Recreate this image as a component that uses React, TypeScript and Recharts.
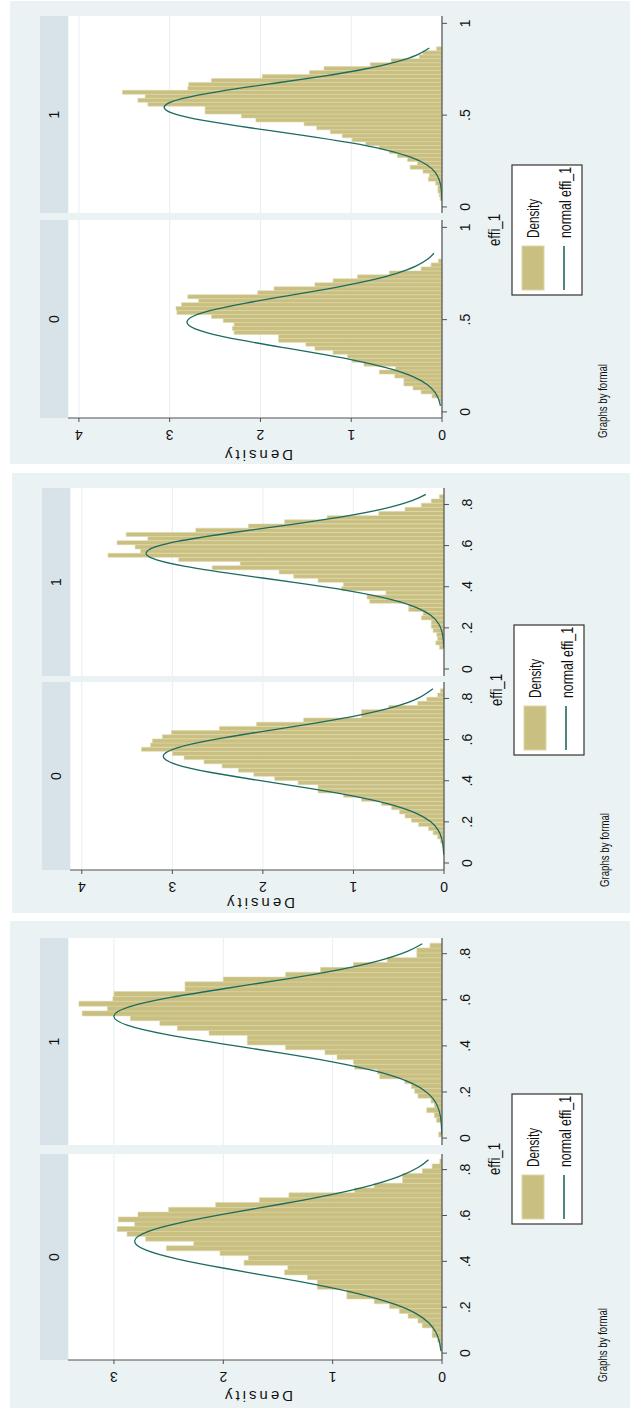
import { Bar, BarChart, CartesianGrid, Line, LineChart, XAxis, YAxis } from "recharts";

// bin centres (effi_1) and histogram densities
const p1Bins = [
  0.0438, 0.0653, 0.0868, 0.1083, 0.1298, 0.1513, 0.1728, 0.1943, 0.2158, 0.2373, 0.2588, 0.2803, 0.3018,
  0.3233, 0.3448, 0.3663, 0.3878, 0.4093, 0.4308, 0.4523, 0.4738, 0.4953, 0.5168, 0.5383, 0.5598, 0.5813,
  0.6028, 0.6243, 0.6458, 0.6673, 0.6888, 0.7103, 0.7318, 0.7533, 0.7748, 0.7963, 0.8178, 0.8393, 0.8608,
];
const p1Formal0 = [
  0.01, 0.03, 0.11, 0.23, 0.32, 0.42, 0.42, 0.52, 0.69, 0.51, 0.86, 0.99, 1.04, 1.2, 1.4, 1.5, 1.8, 1.8, 2.29,
  2.31, 2.29, 2.41, 2.54, 2.92, 2.93, 2.87, 2.68, 2.8, 2.03, 1.85, 1.4, 1.2, 0.93, 0.58, 0.23, 0.12, 0.04, 0, 0,
];
const p1Formal1 = [
  0.02, 0.03, 0.045, 0.045, 0.07, 0.15, 0.14, 0.21, 0.35, 0.27, 0.38, 0.49, 0.58, 0.69, 0.84, 0.99, 1.1, 1.23,
  1.38, 1.52, 2.05, 2.21, 2.61, 2.61, 3.24, 3.35, 3.27, 3.52, 2.8, 2.79, 2.54, 1.98, 1.46, 1.3, 0.79, 0.56, 0.25,
  0.21, 0.06,
];
const p1CurveX0 = [
  0.033, 0.07, 0.11, 0.15, 0.19, 0.23, 0.27, 0.31, 0.35, 0.39, 0.43, 0.47, 0.51, 0.55, 0.59, 0.63, 0.67, 0.71,
  0.75, 0.79, 0.83, 0.86,
];
const p1Curve0 = [
  0.017, 0.038, 0.083, 0.168, 0.315, 0.546, 0.874, 1.292, 1.764, 2.225, 2.593, 2.79, 2.773, 2.547, 2.16, 1.692,
  1.225, 0.819, 0.506, 0.289, 0.152, 0.089,
];
const p1CurveX1 = [
  0.035, 0.07, 0.11, 0.15, 0.19, 0.23, 0.27, 0.31, 0.35, 0.39, 0.43, 0.47, 0.51, 0.55, 0.59, 0.63, 0.67, 0.71,
  0.75, 0.79, 0.83, 0.866,
];
const p1Curve1 = [
  0.002, 0.004, 0.012, 0.032, 0.077, 0.169, 0.337, 0.614, 1.017, 1.531, 2.097, 2.614, 2.963, 3.056, 2.866, 2.446,
  1.899, 1.341, 0.861, 0.503, 0.268, 0.14,
];

const p2Bins = [
  0.0662, 0.0865, 0.1068, 0.1271, 0.1474, 0.1677, 0.188, 0.2083, 0.2286, 0.2489, 0.2692, 0.2895, 0.3098, 0.3301,
  0.3504, 0.3707, 0.391, 0.4113, 0.4316, 0.4519, 0.4722, 0.4925, 0.5128, 0.5331, 0.5534, 0.5737, 0.594, 0.6143,
  0.6346, 0.6549, 0.6752, 0.6955, 0.7158, 0.7361, 0.7564, 0.7767, 0.797, 0.8173, 0.8376,
];
const p2Formal0 = [
  0.01, 0.02, 0.04, 0.07, 0.12, 0.17, 0.28, 0.36, 0.43, 0.49, 0.58, 0.69, 0.91, 1.11, 1.39, 1.39, 1.61, 1.87, 2.1,
  2.27, 2.45, 2.65, 2.87, 3.0, 3.34, 3.24, 3.22, 3.11, 3.01, 2.48, 2.07, 1.55, 0.91, 0.91, 0.61, 0.29, 0.19, 0.07,
  0.04,
];
const p2Formal1 = [
  0, 0, 0.05, 0.09, 0.07, 0.08, 0.12, 0.14, 0.14, 0.25, 0.23, 0.39, 0.39, 0.82, 0.85, 0.64, 1.13, 1.11, 1.39, 1.66,
  1.82, 2.56, 2.25, 2.93, 3.71, 3.35, 3.41, 3.61, 3.27, 3.51, 2.74, 2.16, 1.76, 1.29, 0.72, 0.43, 0.25, 0.14, 0.05,
];
const p2CurveX0 = [
  0.04, 0.08, 0.12, 0.16, 0.2, 0.24, 0.28, 0.32, 0.36, 0.4, 0.44, 0.48, 0.52, 0.56, 0.6, 0.64, 0.68, 0.72, 0.76,
  0.8, 0.847,
];
const p2Curve0 = [
  0.003, 0.009, 0.026, 0.064, 0.146, 0.299, 0.557, 0.943, 1.45, 2.026, 2.57, 2.962, 3.1, 2.947, 2.545, 1.997,
  1.423, 0.921, 0.541, 0.289, 0.122,
];
const p2CurveX1 = [
  0.105, 0.14, 0.18, 0.22, 0.26, 0.3, 0.34, 0.38, 0.42, 0.46, 0.5, 0.54, 0.58, 0.62, 0.66, 0.7, 0.74, 0.78, 0.82,
  0.849,
];
const p2Curve1 = [
  0.003, 0.007, 0.022, 0.059, 0.143, 0.31, 0.602, 1.048, 1.637, 2.29, 2.873, 3.231, 3.258, 2.944, 2.386, 1.733,
  1.128, 0.659, 0.345, 0.201,
];

const p3Bins = [
  0.0155, 0.0365, 0.0575, 0.0785, 0.0995, 0.1205, 0.1415, 0.1625, 0.1835, 0.2045, 0.2255, 0.2465, 0.2675, 0.2885,
  0.3095, 0.3305, 0.3515, 0.3725, 0.3935, 0.4145, 0.4355, 0.4565, 0.4775, 0.4985, 0.5195, 0.5405, 0.5615, 0.5825,
  0.6035, 0.6245, 0.6455, 0.6665, 0.6875, 0.7085, 0.7295, 0.7505, 0.7715, 0.7925, 0.8135, 0.8345,
];
const p3Formal0 = [
  0.01, 0.02, 0.04, 0.09, 0.09, 0.18, 0.22, 0.31, 0.39, 0.48, 0.62, 0.87, 0.87, 1.14, 1.14, 1.23, 1.44, 1.41, 1.81,
  1.77, 2.03, 2.52, 2.27, 2.71, 2.88, 2.97, 2.81, 2.96, 2.78, 2.5, 2.07, 1.67, 1.4, 0.8, 0.62, 0.36, 0.36, 0.18,
  0.09, 0.02,
];
const p3Formal1 = [
  0.03, 0, 0, 0.05, 0.07, 0.14, 0.07, 0.1, 0.22, 0.25, 0.28, 0.34, 0.57, 0.59, 0.8, 0.81, 0.96, 1.07, 1.43, 1.78,
  1.78, 2.13, 2.42, 2.58, 2.85, 3.29, 3.06, 3.32, 3.01, 3.0, 2.35, 2.35, 2.0, 1.43, 1.11, 0.81, 0.5, 0.23, 0.23,
  0.11,
];
const p3CurveX0 = [
  0.01, 0.05, 0.09, 0.13, 0.17, 0.21, 0.25, 0.29, 0.33, 0.37, 0.41, 0.45, 0.49, 0.53, 0.57, 0.61, 0.65, 0.69, 0.73,
  0.77, 0.81, 0.843,
];
const p3Curve0 = [
  0.01, 0.024, 0.055, 0.117, 0.229, 0.414, 0.69, 1.063, 1.513, 1.99, 2.417, 2.711, 2.81, 2.69, 2.378, 1.943, 1.466,
  1.022, 0.658, 0.391, 0.215, 0.123,
];
const p3CurveX1 = [
  0.017, 0.05, 0.09, 0.13, 0.17, 0.21, 0.25, 0.29, 0.33, 0.37, 0.41, 0.45, 0.49, 0.53, 0.57, 0.61, 0.65, 0.69,
  0.73, 0.77, 0.81, 0.843,
];
const p3Curve1 = [
  0.002, 0.005, 0.013, 0.034, 0.08, 0.172, 0.338, 0.605, 0.991, 1.481, 2.024, 2.526, 2.88, 3.0, 2.854, 2.481, 1.97,
  1.429, 0.947, 0.573, 0.317, 0.18,
];

const effiTicksWide = [0, 0.5, 1];
const effiTicks = [0, 0.2, 0.4, 0.6, 0.8];
const densityTicks4 = [0, 1, 2, 3, 4];
const densityTicks3 = [0, 1, 2, 3];
const groupLabels = ["0", "1"];

const FONT = '"Liberation Sans", Arial, sans-serif';
const BG = "#eaf2f3";
const STRIP = "#d7e3e9";
const BAR_FILL = "#c9bf80";
const BAR_EDGE = "#ddd7a9";
const CURVE = "#1d6b5f";
const GRID = "#e6eff1";
const AXIS = "#505050";
const INK = "#111";

// layout in the un-rotated graph (u runs along effi_1, v runs down)
const STRIP_TOP = 30;
const PLOT_TOP = 58;
const PLOT_H = 374;
const Y_AXIS_W = 46;
const X_AXIS_H = 40;

if (typeof document !== "undefined") document.body.style.margin = "0";

type Pt = { x: number; y: number };
const curveRows = (xs: number[], ys: number[]): Pt[] => xs.map((x, i) => ({ x, y: ys[i] }));
const binRows = (xs: number[], ds: number[]) => xs.map((x, i) => ({ x, d: ds[i] }));

function fmtEffi(v: number): string {
  if (v === 0) return "0";
  if (v === 1) return "1";
  return String(v).replace(/^0/, "");
}

type PanelCfg = {
  left: number;
  top: number;
  w: number;
  h: number;
  s0: [number, number];
  s1: [number, number];
  xDomain: [number, number];
  xTicks: number[];
  yMax: number;
  yTicks: number[];
  yTitleU: number;
  xTitleU: number;
  bins0: { x: number; d: number }[];
  bins1: { x: number; d: number }[];
  curve0: Pt[];
  curve1: Pt[];
};

const panels: PanelCfg[] = [
  {
    left: 10, top: 1, w: 463, h: 620,
    s0: [46, 244], s1: [251, 448],
    xDomain: [-0.033, 1.04], xTicks: effiTicksWide,
    yMax: 4.12, yTicks: densityTicks4,
    yTitleU: 10, xTitleU: 234,
    bins0: binRows(p1Bins, p1Formal0), bins1: binRows(p1Bins, p1Formal1),
    curve0: curveRows(p1CurveX0, p1Curve0), curve1: curveRows(p1CurveX1, p1Curve1),
  },
  {
    left: 12, top: 473, w: 440, h: 618,
    s0: [43, 231], s1: [237, 425],
    xDomain: [-0.034, 0.88], xTicks: effiTicks,
    yMax: 4.13, yTicks: densityTicks4,
    yTitleU: 11, xTitleU: 223,
    bins0: binRows(p2Bins, p2Formal0), bins1: binRows(p2Bins, p2Formal1),
    curve0: curveRows(p2CurveX0, p2Curve0), curve1: curveRows(p2CurveX1, p2Curve1),
  },
  {
    left: 10, top: 921, w: 487, h: 620,
    s0: [48, 254], s1: [263, 470],
    xDomain: [-0.03, 0.868], xTicks: effiTicks,
    yMax: 3.42, yTicks: densityTicks3,
    yTitleU: 13, xTitleU: 249,
    bins0: binRows(p3Bins, p3Formal0), bins1: binRows(p3Bins, p3Formal1),
    curve0: curveRows(p3CurveX0, p3Curve0), curve1: curveRows(p3CurveX1, p3Curve1),
  },
];

function Subpanel({
  cfg,
  range,
  label,
  bins,
  curve,
  showDensity,
}: {
  cfg: PanelCfg;
  range: [number, number];
  label: string;
  bins: { x: number; d: number }[];
  curve: Pt[];
  showDensity: boolean;
}) {
  const [u0, u1] = range;
  const pw = u1 - u0;
  const yw = showDensity ? Y_AXIS_W : 0;
  return (
    <>
      <div
        style={{
          position: "absolute",
          left: u0,
          top: STRIP_TOP,
          width: pw,
          height: PLOT_TOP - STRIP_TOP,
          background: STRIP,
          fontFamily: FONT,
          fontSize: 14,
          lineHeight: `${PLOT_TOP - STRIP_TOP}px`,
          textAlign: "center",
          color: INK,
        }}
      >
        {label}
      </div>
      <div style={{ position: "absolute", left: u0, top: PLOT_TOP, width: pw, height: PLOT_H, background: "#fff" }} />
      <div style={{ position: "absolute", left: u0, top: PLOT_TOP }}>
        <BarChart
          width={pw}
          height={PLOT_H}
          data={bins}
          margin={{ top: 0, right: 0, bottom: 0, left: 0 }}
          barCategoryGap={0}
          barGap={0}
        >
          <CartesianGrid vertical={false} stroke={GRID} strokeWidth={1} />
          <XAxis dataKey="x" type="number" domain={cfg.xDomain} allowDataOverflow hide />
          <YAxis type="number" domain={[0, cfg.yMax]} ticks={cfg.yTicks} allowDataOverflow hide />
          <Bar dataKey="d" fill={BAR_FILL} stroke={BAR_EDGE} strokeWidth={0.6} isAnimationActive={false} />
        </BarChart>
      </div>
      <div style={{ position: "absolute", left: u0 - yw, top: PLOT_TOP }}>
        <LineChart
          width={pw + yw}
          height={PLOT_H + X_AXIS_H}
          data={curve}
          margin={{ top: 0, right: 0, bottom: 0, left: 0 }}
        >
          <XAxis
            dataKey="x"
            type="number"
            domain={cfg.xDomain}
            ticks={cfg.xTicks}
            interval={0}
            allowDataOverflow
            height={X_AXIS_H}
            tickSize={5}
            axisLine={{ stroke: AXIS, strokeWidth: 1.2 }}
            tickLine={{ stroke: AXIS }}
            tick={(p: any) => (
              <text
                key={p.index}
                x={p.x}
                y={PLOT_H + 28}
                textAnchor="middle"
                fontSize={14}
                fontFamily={FONT}
                fill={INK}
              >
                {fmtEffi(p.payload.value)}
              </text>
            )}
          />
          <YAxis
            type="number"
            domain={[0, cfg.yMax]}
            ticks={cfg.yTicks}
            interval={0}
            allowDataOverflow
            hide={!showDensity}
            width={yw}
            tickSize={4}
            axisLine={{ stroke: AXIS, strokeWidth: 1.2 }}
            tickLine={{ stroke: AXIS }}
            tick={(p: any) => {
              const cx = Y_AXIS_W - 17;
              return (
                <text
                  key={p.index}
                  x={cx}
                  y={p.y + 5}
                  transform={`rotate(-90 ${cx} ${p.y})`}
                  textAnchor="middle"
                  fontSize={14}
                  fontFamily={FONT}
                  fill={INK}
                >
                  {p.payload.value}
                </text>
              );
            }}
          />
          <Line
            dataKey="y"
            type="natural"
            stroke={CURVE}
            strokeWidth={1.3}
            dot={false}
            activeDot={false}
            isAnimationActive={false}
          />
        </LineChart>
      </div>
    </>
  );
}

function Panel({ cfg }: { cfg: PanelCfg }) {
  const lg = cfg.xTitleU - 65;
  const plotMid = PLOT_TOP + PLOT_H / 2 + 4;
  const tx = cfg.yTitleU + 4;
  return (
    <div
      style={{
        position: "absolute",
        left: cfg.left,
        top: cfg.top,
        width: cfg.w,
        height: cfg.h,
        background: BG,
        transformOrigin: "0 0",
        transform: `translate(0px, ${cfg.w}px) rotate(-90deg)`,
      }}
    >
      <Subpanel cfg={cfg} range={cfg.s0} label={groupLabels[0]} bins={cfg.bins0} curve={cfg.curve0} showDensity />
      <Subpanel
        cfg={cfg}
        range={cfg.s1}
        label={groupLabels[1]}
        bins={cfg.bins1}
        curve={cfg.curve1}
        showDensity={false}
      />
      <svg
        width={cfg.w}
        height={cfg.h}
        style={{ position: "absolute", left: 0, top: 0, pointerEvents: "none" }}
        fontFamily={FONT}
      >
        <text
          x={tx}
          y={plotMid}
          transform={`rotate(-90 ${tx} ${plotMid})`}
          textAnchor="middle"
          fontSize={15}
          textLength={68}
          lengthAdjust="spacing"
          fill={INK}
        >
          Density
        </text>
        <text
          x={cfg.xTitleU}
          y={490}
          textAnchor="middle"
          fontSize={16}
          textLength={32}
          lengthAdjust="spacingAndGlyphs"
          fill={INK}
        >
          effi_1
        </text>
        <rect x={lg} y={502} width={130} height={70} fill="#fff" stroke="#333" strokeWidth={1.2} />
        <rect x={lg + 5} y={512} width={44} height={22} fill={BAR_FILL} stroke={BAR_EDGE} strokeWidth={1} />
        <text
          x={lg + 57}
          y={529}
          fontSize={16}
          textLength={39}
          lengthAdjust="spacingAndGlyphs"
          fill={INK}
        >
          Density
        </text>
        <line x1={lg + 5} x2={lg + 49} y1={554} y2={554} stroke={CURVE} strokeWidth={1.6} />
        <text
          x={lg + 57}
          y={561}
          fontSize={16}
          textLength={71}
          lengthAdjust="spacingAndGlyphs"
          fill={INK}
        >
          normal effi_1
        </text>
        <text x={26} y={597} fontSize={12} textLength={74} lengthAdjust="spacingAndGlyphs" fill={INK}>
          Graphs by formal
        </text>
      </svg>
    </div>
  );
}

export default function App() {
  return (
    <div style={{ position: "relative", width: 630, height: 1410, overflow: "hidden", background: "#fff" }}>
      {panels.map((cfg, i) => (
        <Panel key={i} cfg={cfg} />
      ))}
    </div>
  );
}
